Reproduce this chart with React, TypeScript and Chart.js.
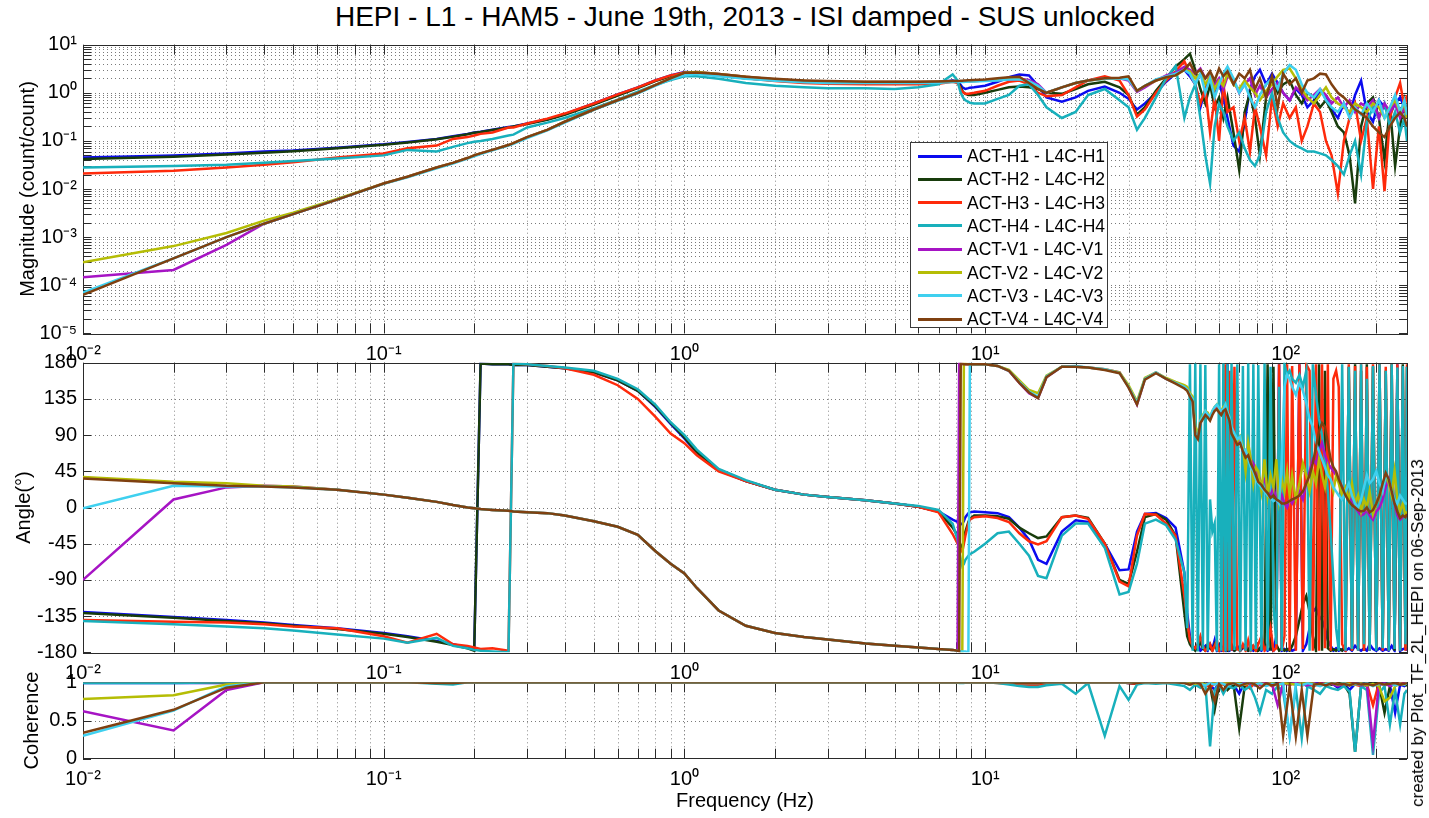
import React, { useEffect, useRef } from 'react';
import { Chart, registerables } from 'chart.js';

Chart.register(...registerables);

const FONT = '"Liberation Sans", Arial, Helvetica, sans-serif';

// ---------- frequency axis (Hz) ----------
// shared low / mid band (63 points)
const FREQ_LOW = [
  0.01, 0.02, 0.03, 0.04, 0.05, 0.07, 0.1, 0.12, 0.15, 0.17, 0.19, 0.2, 0.21, 0.23, 0.26, 0.27,
  0.3, 0.35, 0.4, 0.5, 0.6, 0.7, 0.8, 0.9, 1.0, 1.1, 1.3, 1.6, 2, 2.5, 3, 4, 5, 6, 7,
  7.8, 8.1, 8.2, 8.3, 8.4, 8.5, 8.6, 8.8, 8.9, 9.2,
  10, 11, 12, 13, 14, 15, 16, 18, 20, 22, 25, 28, 30, 32, 34, 37, 40, 43,
];
// high band used by magnitude and coherence (42 points)
const FREQ_HIGH = [
  46, 48, 50, 52, 54, 56, 58, 60, 62, 64,
  67, 70, 73, 76, 79, 82, 86, 90, 94, 98,
  103, 108, 113, 118, 124, 130, 136, 142, 149, 156,
  163, 170, 178, 186, 195, 204, 213, 222, 231, 240,
  248, 253,
];
// denser high band used by the phase (81 points)
const FREQ_PHASE_HIGH = [
  46, 47, 48, 49, 50, 51, 52, 53, 54, 55,
  56, 57, 58, 59, 60, 61, 62, 63, 64, 65,
  66, 67.5, 69, 70.5, 72, 73.5, 75, 76.5, 78, 79.5,
  81, 83, 85, 87, 89, 91, 93, 95, 97, 99,
  101, 103, 105, 108, 111, 114, 117, 120, 123, 126,
  129, 132, 135, 138, 141, 144, 147, 150, 154, 158,
  162, 166, 170, 174, 178, 182, 186, 190, 195, 200,
  205, 210, 215, 220, 225, 230, 235, 240, 245, 250,
  253,
];
const FREQ = FREQ_LOW.concat(FREQ_HIGH);
const FREQ_PHASE = FREQ_LOW.concat(FREQ_PHASE_HIGH);

const SERIES_NAMES = [
  'ACT-H1 - L4C-H1', 'ACT-H2 - L4C-H2', 'ACT-H3 - L4C-H3', 'ACT-H4 - L4C-H4',
  'ACT-V1 - L4C-V1', 'ACT-V2 - L4C-V2', 'ACT-V3 - L4C-V3', 'ACT-V4 - L4C-V4',
];
const SERIES_COLORS = ['#0b0bef', '#183c0c', '#fe2a0b', '#18b0bc', '#a614c4', '#b5bd05', '#3fd0ef', '#7f4010'];

// ---------- tick values / labels ----------
const X_MAJOR_TICKS = [0.01, 0.1, 1, 10, 100];
const X_TICK_LABELS = ['10⁻²', '10⁻¹', '10⁰', '10¹', '10²'];
const MAG_MAJOR_TICKS = [1e-5, 1e-4, 1e-3, 1e-2, 1e-1, 1, 10];
const MAG_TICK_LABELS = ['10⁻⁵', '10⁻⁴', '10⁻³', '10⁻²', '10⁻¹', '10⁰', '10¹'];
const PHASE_TICKS = [-180, -135, -90, -45, 0, 45, 90, 135, 180];
const PHASE_TICK_LABELS = ['-180', '-135', '-90', '-45', '0', '45', '90', '135', '180'];
const COH_TICKS = [0, 0.5, 1];
const COH_TICK_LABELS = ['0', '0.5', '1'];
const MINOR_STEPS = [1, 2, 3, 4, 5, 6, 7, 8, 9];

// ---------- magnitude (count/count), on FREQ ----------
const MAG_H1 = [
  0.045, 0.05, 0.055, 0.06, 0.063, 0.072, 0.085, 0.095, 0.11, 0.125, 0.14, 0.15, 0.155, 0.17, 0.195, 0.2,
  0.23, 0.28, 0.36, 0.6, 0.92, 1.3, 1.8, 2.3, 2.7, 2.65, 2.35, 2.05, 1.85, 1.7, 1.65, 1.6, 1.6, 1.6, 1.65,
  1.8, 1.75, 1.6, 1.45, 1.3, 1.25, 1.2, 1.25, 1.28, 1.3,
  1.4, 1.7, 2.1, 2.4, 2.3, 1.4, 0.8, 0.65, 0.8, 1.1, 1.35, 1.0, 0.75, 0.45, 0.6, 1.0, 1.7, 2.5,
  3.0, 2.2, 1.5, 0.5, 1.2, 2.0, 0.9, 1.6, 0.8, 0.3,
  0.08, 0.06, 0.25, 1.2, 2.2, 3.0, 1.5, 2.5, 1.6, 1.0,
  0.7, 1.2, 0.9, 0.5, 0.7, 1.1, 0.8, 0.45, 0.3, 0.6,
  0.35, 0.9, 1.8, 0.4, 0.25, 0.7, 0.5, 0.35, 0.6, 0.8,
  0.5, 0.3,
];
const MAG_H2 = [
  0.042, 0.047, 0.052, 0.057, 0.061, 0.07, 0.083, 0.093, 0.108, 0.122, 0.138, 0.148, 0.153, 0.168, 0.19, 0.2,
  0.225, 0.275, 0.35, 0.57, 0.88, 1.25, 1.75, 2.2, 2.6, 2.55, 2.3, 2.0, 1.8, 1.65, 1.6, 1.6, 1.6, 1.6, 1.65,
  1.75, 1.65, 1.5, 1.3, 1.1, 1.0, 0.95, 0.9, 0.9, 0.9,
  1.0, 1.15, 1.3, 1.35, 1.3, 1.2, 1.0, 0.95, 1.2, 1.5, 1.7, 1.3, 0.9, 0.35, 0.5, 1.1, 2.0, 3.5,
  5.0, 6.5, 3.0, 1.2, 0.6, 1.5, 0.5, 0.8, 0.3, 0.8,
  0.15, 0.025, 0.4, 1.0, 0.3, 0.05, 0.8, 2.0, 1.0, 1.5,
  1.8, 0.9, 0.6, 1.0, 0.8, 0.5, 0.7, 0.4, 0.2, 0.15,
  0.05, 0.005, 0.2, 0.6, 0.8, 0.3, 0.04, 0.5, 0.03, 0.2,
  0.7, 0.4,
];
const MAG_H3 = [
  0.021, 0.024, 0.028, 0.032, 0.036, 0.045, 0.055, 0.07, 0.08, 0.11, 0.12, 0.13, 0.14, 0.15, 0.19, 0.19,
  0.23, 0.29, 0.37, 0.6, 0.93, 1.3, 1.8, 2.3, 2.65, 2.6, 2.3, 2.0, 1.75, 1.6, 1.55, 1.5, 1.5, 1.5, 1.55,
  1.7, 1.6, 1.4, 1.2, 1.05, 1.0, 0.95, 0.95, 0.97, 1.0,
  1.1, 1.4, 1.7, 1.8, 1.5, 1.0, 0.85, 0.9, 1.3, 1.8, 2.2, 1.8, 0.9, 0.32, 0.45, 1.0, 1.8, 2.8,
  4.5, 2.5, 1.5, 0.6, 1.2, 0.15, 0.8, 0.1, 1.5, 0.4,
  0.5, 0.1, 0.3, 0.06, 0.5, 0.2, 0.05, 0.8, 0.2, 0.6,
  0.3, 0.5, 0.1, 0.2, 0.6, 0.4, 0.1, 0.05, 0.008, 0.1,
  0.3, 0.6, 0.1, 0.3, 0.01, 0.2, 0.009, 0.3, 0.8, 1.6,
  0.5, 0.9,
];
const MAG_H4 = [
  0.028, 0.03, 0.032, 0.035, 0.038, 0.043, 0.05, 0.065, 0.06, 0.075, 0.09, 0.096, 0.1, 0.11, 0.13, 0.135,
  0.19, 0.24, 0.3, 0.48, 0.72, 1.05, 1.45, 1.85, 2.2, 2.2, 1.95, 1.6, 1.4, 1.3, 1.25, 1.25, 1.2, 1.3, 1.5,
  2.4, 1.8, 1.3, 1.0, 0.85, 0.75, 0.7, 0.65, 0.62, 0.6,
  0.6, 0.75, 0.9, 1.4, 1.5, 0.9, 0.5, 0.3, 0.4, 0.9, 1.2, 0.7, 0.5, 0.17, 0.3, 0.8, 2.0, 3.6,
  0.3, 0.8, 1.5, 0.3, 0.05, 0.013, 0.2, 0.6, 0.4, 0.2,
  0.1, 0.15, 0.07, 0.04, 0.03, 0.05, 0.4, 1.0, 0.3, 0.15,
  0.1, 0.08, 0.07, 0.06, 0.06, 0.055, 0.05, 0.04, 0.03, 0.02,
  0.05, 0.1, 0.02, 0.25, 0.5, 0.3, 0.6, 0.2, 0.4, 0.15,
  0.3, 0.1,
];
const MAG_V1 = [
  1.46e-4, 2.07e-4, 6.9e-4, 1.9e-3, 3.0e-3, 6.0e-3, 1.3e-2, 1.8e-2, 2.8e-2, 3.5e-2, 4.4e-2, 5.0e-2, 5.5e-2, 6.5e-2, 8.2e-2, 9.0e-2,
  0.12, 0.17, 0.25, 0.45, 0.7, 1.0, 1.45, 2.0, 2.6, 2.7, 2.45, 2.15, 1.9, 1.78, 1.7, 1.68, 1.68, 1.68, 1.7,
  1.7, 1.7, 1.7, 1.7, 1.7, 1.7, 1.72, 1.72, 1.73, 1.75,
  1.8, 1.85, 1.9, 1.95, 1.85, 1.5, 1.0, 1.3, 1.6, 1.8, 2.0, 2.0, 1.8, 1.05, 1.3, 1.8, 2.3, 2.6,
  3.5, 3.0, 2.5, 3.2, 2.0, 2.5, 1.5, 2.0, 1.2, 2.2,
  1.8, 1.0, 1.5, 2.0, 0.9, 1.4, 0.8, 1.2, 1.6, 1.0,
  0.7, 1.3, 1.0, 0.7, 0.9, 1.2, 0.9, 0.6, 0.8, 0.5,
  0.7, 0.4, 0.6, 0.5, 0.7, 0.3, 0.6, 0.4, 0.6, 0.3,
  0.5, 0.35,
];
const MAG_V2 = [
  3.0e-4, 6.5e-4, 1.22e-3, 2.2e-3, 3.2e-3, 6.2e-3, 1.3e-2, 1.8e-2, 2.8e-2, 3.5e-2, 4.4e-2, 5.0e-2, 5.5e-2, 6.5e-2, 8.2e-2, 9.0e-2,
  0.12, 0.17, 0.25, 0.45, 0.7, 1.0, 1.45, 2.0, 2.6, 2.7, 2.45, 2.15, 1.9, 1.78, 1.7, 1.68, 1.68, 1.68, 1.7,
  1.7, 1.7, 1.7, 1.7, 1.7, 1.7, 1.72, 1.72, 1.73, 1.75,
  1.8, 1.9, 2.0, 1.95, 1.7, 1.3, 1.0, 1.3, 1.6, 1.8, 1.95, 2.0, 2.1, 1.1, 1.4, 1.8, 2.1, 2.3,
  3.0, 2.8, 2.0, 2.5, 1.5, 2.2, 1.2, 1.8, 1.4, 2.5,
  1.5, 1.2, 1.8, 1.3, 1.0, 0.7, 1.1, 1.5, 2.2, 3.0,
  3.2, 2.0, 1.2, 0.8, 0.6, 0.9, 1.3, 0.8, 0.6, 0.5,
  0.4, 0.6, 0.5, 0.4, 0.6, 0.5, 0.3, 0.5, 0.7, 0.4,
  0.6, 0.3,
];
const MAG_V3 = [
  7.0e-5, 3.6e-4, 1.0e-3, 1.9e-3, 3.0e-3, 6.0e-3, 1.28e-2, 1.75e-2, 2.7e-2, 3.4e-2, 4.3e-2, 4.8e-2, 5.3e-2, 6.4e-2, 8.0e-2, 8.7e-2,
  0.115, 0.165, 0.24, 0.44, 0.68, 0.97, 1.4, 1.9, 2.3, 2.45, 2.2, 1.95, 1.78, 1.66, 1.6, 1.6, 1.6, 1.6, 1.62,
  1.68, 1.68, 1.68, 1.68, 1.68, 1.68, 1.7, 1.7, 1.71, 1.72,
  1.75, 1.8, 1.9, 1.9, 1.75, 1.4, 1.0, 1.3, 1.6, 1.8, 1.95, 2.0, 1.9, 1.1, 1.4, 1.9, 2.2, 2.5,
  3.0, 2.5, 1.5, 2.5, 1.0, 2.0, 0.8, 1.5, 2.5, 3.5,
  2.0, 1.0, 1.5, 0.8, 0.5, 0.9, 1.5, 2.0, 1.2, 2.5,
  3.8, 3.0, 1.5, 1.0, 0.8, 1.2, 0.7, 0.5, 0.4, 0.6,
  0.3, 0.5, 0.35, 0.6, 0.4, 0.7, 0.3, 0.5, 0.9, 0.4,
  0.7, 0.35,
];
const MAG_V4 = [
  6.3e-5, 3.6e-4, 1.0e-3, 1.9e-3, 3.0e-3, 6.0e-3, 1.3e-2, 1.8e-2, 2.8e-2, 3.5e-2, 4.4e-2, 5.0e-2, 5.5e-2, 6.5e-2, 8.2e-2, 9.0e-2,
  0.12, 0.17, 0.25, 0.45, 0.7, 1.0, 1.45, 2.0, 2.6, 2.65, 2.45, 2.15, 1.95, 1.8, 1.75, 1.7, 1.7, 1.7, 1.72,
  1.75, 1.76, 1.77, 1.78, 1.78, 1.8, 1.8, 1.82, 1.82, 1.85,
  1.9, 2.0, 2.1, 2.15, 1.6, 1.2, 1.0, 1.3, 1.6, 1.8, 2.0, 2.05, 2.2, 1.1, 1.4, 1.8, 2.1, 2.3,
  3.0, 4.1, 2.5, 3.0, 2.0, 2.8, 1.8, 3.2, 2.2, 2.8,
  1.5, 2.5, 2.0, 3.0, 1.2, 2.0, 0.8, 2.2, 0.5, 2.5,
  1.5, 2.0, 1.0, 1.8, 2.0, 2.5, 2.4, 1.5, 1.0, 0.8,
  0.6, 0.45, 0.37, 0.3, 0.2, 0.15, 0.12, 0.2, 0.3, 0.39,
  0.3, 0.2,
];

// ---------- phase (degrees), on FREQ_PHASE ----------
const PH_H1 = [
  -130, -136, -140, -143, -146, -150, -156, -160, -166, -170, -174, -177, 179, 178, 178, 177,
  177, 175, 173, 168, 158, 145, 125, 104, 86, 68, 46, 33, 22, 16, 13, 9, 5, 1, -5,
  -15, -18, -20, -21, -20, -17, -12, -7, -6, -5,
  -6, -7, -12, -25, -40, -65, -70, -30, -16, -18, -45, -78, -77, -30, -8, -7, -13, -25,
  -81, -131, -160, -172, -176, -170, -178, -175, -172, -178,
  -170, -176, -165, -178, -172, -178, -175, -178, 178, -178,
  -176, -178, -172, -178, -175, -170, -178, -176, -178, -172,
  -176, -178, -170, -178, -175, -178, -160, 178, -178, -176,
  -178, -175, -178, -176, 178, -178, -170, -150, -130, -125,
  -135, -140, -150, -165, -172, -178, -175, -178, -176, -178,
  -175, -178, -172, -176, -178, -175, -178, -170, -176, -178,
  -175, -178, -176, -178, -172, -178, 178, -178, -176, -175,
  -178,
];
const PH_H2 = [
  -131, -137, -141, -144, -147, -151, -157, -161, -167, -171, -175, -178, 179, 178, 178, 177,
  177, 175, 173, 168, 158, 145, 126, 105, 87, 69, 47, 33, 22, 16, 13, 9, 5, 1, -5,
  -25, -35, -42, -47, -50, -42, -30, -18, -14, -10,
  -10, -11, -14, -25, -32, -38, -36, -12, -10, -13, -45, -90, -95, -55, -12, -8, -15, -35,
  -131, -160, -170, -175, -178, -172, -168, -175, -178, -170,
  -175, -178, -170, -176, -178, -172, -178, -175, -178, -176,
  -170, -178, -175, -178, -172, -176, -178, -170, -175, -178,
  -178, -172, -175, 178, -178, 175, -170, -178, -175, -178,
  -176, -178, -172, -160, -140, -120, -110, -130, -160, -178,
  178, -178, 170, -175, -178, -176, -178, -175, -178, -170,
  175, -178, 178, -176, 170, -178, 178, -178, 175, -178,
  178, -176, 170, -178, 178, -178, 160, -178, 178, -175,
  175,
];
const PH_H3 = [
  -140, -142, -143, -145, -148, -150, -160, -168, -157, -170, -172, -174, -176, -175, -178, 179,
  178, 176, 173, 165, 152, 135, 113, 92, 80, 65, 45, 33, 22, 16, 13, 9, 5, 1, -6,
  -33, -45, -48, -52, -55, -45, -35, -20, -15, -12,
  -11, -13, -18, -32, -42, -46, -42, -12, -10, -14, -45, -92, -98, -35, -8, -9, -20, -35,
  -110, -140, -165, -172, -175, -170, -160, -172, -178, -175,
  -170, -178, -172, -165, -178, -175, -178, 178, -178, 170,
  -178, 175, -176, -178, -170, -178, -165, -178, -172, -178,
  -170, -160, -178, -170, -150, -178, -175, 178, -178, -160,
  178, -178, 176, -178, 178, -176, 178, 170, -178, 178,
  -178, 178, -175, 178, -178, 160, 170, 150, -170, -178,
  178, -178, 176, -178, 178, -178, 175, -178, 178, -176,
  178, -178, 175, -178, 178, -175, 178, -178, 176, -178,
  178,
];
const PH_H4 = [
  -141, -145, -148, -150, -153, -158, -163, -168, -162, -172, -175, -177, -178, -179, -180, 179,
  178, 176, 174, 170, 160, 147, 128, 106, 90, 72, 48, 34, 22, 16, 13, 9, 5, 2, -3,
  -20, -40, -55, -65, -73, -70, -65, -60, -58, -55,
  -45, -32, -30, -45, -60, -85, -88, -35, -20, -20, -50, -108, -105, -70, -20, -15, -22, -40,
  -81, -150, 178, -178, 179, -179, 178, -176, 177, -178,
  10, -30, -20, -179, 178, -178, 179, -179, 178, -178,
  179, -177, 178, -179, 176, -178, 179, -179, 178, -176,
  177, -178, 179, -178, 175, -120, -170, 150, -178, 178,
  165, 170, 160, 155, 165, 150, 170, -178, 178, 140,
  110, 90, 60, 20, -30, -90, -150, -178, 178, -178,
  175, -176, 170, -178, 178, -170, 160, -178, 176, -178,
  178, -175, 170, -178, 178, -176, 174, -178, 176, -170,
  175,
];
const PH_V1 = [
  -90, 10, 25, 27, 26, 22, 16, 12, 7, 3, 0, -1, -2, -3, -4, -5,
  -6, -7, -10, -17, -24, -34, -54, -70, -82, -100, -128, -147, -156, -161, -164, -169, -172, -174, -176,
  -177, -178, 179, 179, 178, 178, 178, 178, 178, 178,
  178, 176, 170, 155, 142, 136, 162, 175, 175, 174, 172, 168, 150, 128, 160, 168, 160, 155,
  150, 148, 140, 135, 95, 90, 105, 112, 118, 115,
  110, 118, 122, 125, 120, 118, 122, 125, 115, 110,
  95, 88, 80, 85, 70, 65, 75, 60, 55, 45,
  40, 30, 35, 20, 15, 25, 10, 5, 15, 5,
  0, 10, 5, 15, 20, 10, 30, 45, 60, 55,
  70, 80, 65, 55, 50, 45, 40, 35, 25, 20,
  15, 5, 0, -5, -10, -8, -3, -10, -15, -5,
  0, 10, 25, 35, 20, 5, -10, -15, -12, -10,
  -10,
];
const PH_V2 = [
  38, 32, 30, 27, 26, 22, 16, 12, 7, 3, 0, -1, -2, -3, -4, -5,
  -6, -7, -10, -17, -24, -34, -54, -70, -82, -100, -128, -147, -156, -161, -164, -169, -172, -174, -176,
  -177, -178, -178, -179, -179, 179, 179, 178, 178, 178,
  178, 176, 171, 158, 146, 142, 164, 175, 175, 174, 172, 168, 152, 132, 161, 168, 161, 156,
  152, 150, 142, 138, 100, 92, 108, 115, 120, 118,
  112, 120, 125, 128, 122, 120, 125, 128, 118, 112,
  98, 90, 82, 88, 75, 45, 80, 60, 30, 50,
  45, 20, 60, 15, 40, 25, 60, 10, 35, 20,
  45, 15, 40, 10, 30, 55, 40, 20, 45, 30,
  60, 40, 25, 50, 35, 20, 40, 30, 15, 25,
  10, 30, 5, 15, -5, 10, 0, 20, -8, 5,
  15, 25, 40, 30, 15, 45, 10, -5, 5, -10,
  -5,
];
const PH_V3 = [
  -1, 27, 26, 26, 25, 22, 16, 12, 7, 3, 0, -1, -2, -3, -4, -5,
  -6, -7, -10, -17, -24, -34, -54, -70, -82, -100, -128, -147, -156, -161, -164, -169, -172, -174, -176,
  -177, -178, -178, -179, -179, -179, -179, -180, 179, 178,
  178, 176, 170, 156, 144, 138, 163, 175, 176, 174, 172, 167, 150, 130, 160, 168, 160, 155,
  150, 147, 140, 135, 92, 88, 108, 113, 120, 116,
  112, 120, 125, 128, 124, 120, 122, 128, 118, 112,
  100, 92, 85, 88, 70, 72, 60, 50, 45, 35,
  30, 25, 20, 15, 12, 8, 10, 5, 60, 150,
  165, 160, 150, 140, 155, 145, 130, 110, 100, 80,
  70, 60, 50, 40, 35, 25, 20, 15, 10, 20,
  30, 15, 5, 0, 10, 25, 40, 30, 35, 45,
  30, 20, 40, 35, 20, 10, 5, 15, 10, 5,
  5,
];
const PH_V4 = [
  36, 30, 27, 26, 25, 22, 16, 12, 7, 3, 0, -1, -2, -3, -4, -5,
  -6, -7, -10, -17, -24, -34, -54, -70, -82, -100, -128, -147, -156, -161, -164, -169, -172, -174, -176,
  -177, -178, -179, 179, 179, 178, 178, 178, 178, 178,
  178, 176, 170, 155, 143, 136, 162, 175, 175, 174, 171, 167, 149, 128, 159, 167, 160, 154,
  148, 145, 138, 132, 90, 85, 105, 110, 115, 112,
  108, 115, 120, 122, 118, 115, 120, 122, 115, 108,
  92, 85, 78, 80, 70, 62, 65, 55, 48, 40,
  32, 28, 22, 18, 12, 15, 10, 8, 5, 5,
  6, 8, 10, 12, 15, 20, 30, 40, 55, 75,
  95, 105, 100, 80, 60, 50, 45, 35, 25, 15,
  8, 3, 0, -3, -5, -4, 0, -6, -3, 5,
  15, 30, 43, 35, 20, 5, -5, -13, -10, -12,
  -8,
];

// ---------- coherence, on FREQ ----------
const COH_H1 = [
  0.99, 0.99, 0.99, 1, 1, 1, 1, 1, 1, 1, 1, 1, 1, 1, 1, 1,
  1, 1, 1, 1, 1, 1, 1, 1, 1, 1, 1, 1, 1, 1, 1, 1, 1, 1, 1,
  1, 1, 1, 1, 1, 1, 1, 1, 1, 1,
  1, 1, 0.99, 0.98, 0.98, 0.98, 0.99, 1, 1, 1, 1, 1, 0.99, 0.98, 1, 1, 1, 1,
  1, 0.98, 0.99, 0.95, 1, 0.97, 0.9, 1, 0.98, 0.95,
  0.97, 0.85, 1, 0.98, 0.96, 1, 0.98, 0.99, 1, 0.97,
  1, 0.98, 0.99, 0.95, 0.98, 1, 0.97, 0.99, 0.93, 0.98,
  0.9, 0.98, 1, 0.95, 0.99, 0.97, 0.98, 0.96, 0.6, 0.97,
  0.95, 0.98,
];
const COH_H2 = [
  1, 1, 1, 1, 1, 1, 1, 1, 1, 1, 1, 1, 1, 1, 1, 1,
  1, 1, 1, 1, 1, 1, 1, 1, 1, 1, 1, 1, 1, 1, 1, 1, 1, 1, 1,
  1, 1, 1, 1, 1, 1, 1, 1, 1, 1,
  1, 1, 0.99, 0.98, 0.98, 0.97, 0.99, 1, 1, 1, 1, 1, 0.99, 0.98, 1, 1, 1, 1,
  1, 0.99, 0.98, 0.97, 1, 0.95, 0.64, 0.97, 0.99, 0.9,
  0.98, 0.4, 0.95, 1, 0.97, 0.99, 0.96, 1, 0.98, 1,
  0.99, 0.97, 0.98, 1, 0.96, 0.98, 0.99, 0.97, 1, 0.98,
  0.85, 0.09, 0.95, 0.97, 1, 0.98, 0.6, 0.95, 0.98, 0.97,
  0.99, 0.95,
];
const COH_H3 = [
  1, 1, 1, 1, 1, 1, 1, 1, 0.99, 1, 1, 1, 1, 1, 1, 1,
  1, 1, 1, 1, 1, 1, 1, 1, 1, 1, 1, 1, 1, 1, 1, 1, 1, 1, 1,
  1, 1, 1, 1, 1, 1, 1, 1, 1, 1,
  1, 0.99, 0.98, 0.96, 0.96, 0.97, 0.98, 1, 1, 1, 1, 1, 0.99, 0.98, 1, 1, 1, 1,
  1, 0.97, 0.99, 0.96, 0.98, 0.93, 0.99, 0.95, 0.98, 0.97,
  0.99, 0.96, 0.98, 0.92, 1, 0.97, 0.99, 0.95, 0.98, 1,
  0.97, 0.99, 0.96, 0.98, 0.95, 0.99, 0.97, 1, 0.98, 0.96,
  0.99, 0.97, 0.95, 0.98, 0.7, 0.99, 0.96, 0.98, 0.97, 0.99,
  0.98, 1,
];
const COH_H4 = [
  0.99, 0.99, 1, 1, 1, 1, 1, 1, 0.98, 0.97, 1, 1, 1, 1, 1, 1,
  1, 1, 1, 1, 1, 1, 1, 1, 1, 1, 1, 1, 1, 1, 1, 1, 1, 1, 1,
  1, 1, 0.99, 0.99, 0.99, 0.99, 1, 1, 1, 1,
  1, 0.99, 0.97, 0.95, 0.94, 0.94, 0.96, 0.98, 0.85, 0.99, 0.3, 0.95, 0.77, 0.97, 0.99, 0.98, 0.99, 0.97,
  0.95, 0.9, 0.97, 0.93, 0.98, 0.16, 0.9, 0.97, 0.85, 0.95,
  0.92, 0.97, 0.9, 0.95, 0.8, 0.6, 0.9, 0.85, 0.95, 0.88,
  0.3, 0.92, 0.27, 0.95, 0.9, 0.85, 0.95, 0.92, 0.9, 0.95,
  0.88, 0.09, 0.95, 0.9, 0.05, 0.85, 0.95, 0.45, 0.9, 0.45,
  0.85, 0.9,
];
const COH_V1 = [
  0.62, 0.37, 0.9, 1, 1, 1, 1, 1, 1, 1, 1, 1, 1, 1, 1, 1,
  1, 1, 1, 1, 1, 1, 1, 1, 1, 1, 1, 1, 1, 1, 1, 1, 1, 1, 1,
  1, 1, 1, 1, 1, 1, 1, 1, 1, 1,
  1, 1, 1, 0.99, 0.99, 0.99, 1, 1, 1, 1, 1, 1, 1, 0.99, 1, 1, 1, 1,
  1, 0.98, 0.99, 1, 0.97, 1, 0.98, 0.99, 1, 0.97,
  0.99, 0.96, 1, 0.98, 0.99, 0.97, 1, 0.98, 0.7, 0.99,
  0.97, 1, 0.98, 0.96, 0.99, 0.97, 1, 0.98, 0.95, 0.99,
  0.97, 0.99, 0.96, 0.98, 0.2, 0.97, 0.99, 0.95, 0.98, 0.97,
  0.99, 0.98,
];
const COH_V2 = [
  0.78, 0.83, 0.97, 1, 1, 1, 1, 1, 1, 1, 1, 1, 1, 1, 1, 1,
  1, 1, 1, 1, 1, 1, 1, 1, 1, 1, 1, 1, 1, 1, 1, 1, 1, 1, 1,
  1, 1, 1, 1, 1, 1, 1, 1, 1, 1,
  1, 1, 1, 0.99, 0.99, 0.99, 1, 1, 1, 1, 1, 1, 1, 0.99, 1, 1, 1, 1,
  1, 0.99, 0.98, 1, 0.97, 0.99, 1, 0.98, 0.99, 1,
  0.98, 0.99, 0.97, 1, 0.98, 0.99, 0.97, 1, 0.96, 0.99,
  0.98, 0.97, 0.99, 1, 0.98, 0.96, 0.99, 1, 0.97, 0.99,
  0.98, 0.97, 0.99, 0.96, 0.98, 0.95, 0.75, 0.8, 0.95, 0.98,
  0.97, 0.99,
];
const COH_V3 = [
  0.3, 0.63, 0.95, 1, 1, 1, 1, 1, 1, 1, 1, 1, 1, 1, 1, 1,
  1, 1, 1, 1, 1, 1, 1, 1, 1, 1, 1, 1, 1, 1, 1, 1, 1, 1, 1,
  1, 1, 1, 1, 1, 1, 1, 1, 1, 1,
  1, 1, 1, 0.99, 0.99, 0.99, 1, 1, 1, 1, 1, 1, 1, 0.99, 1, 1, 1, 1,
  0.99, 0.97, 1, 0.98, 0.96, 0.99, 0.97, 1, 0.98, 0.95,
  0.99, 0.97, 0.98, 1, 0.97, 0.99, 0.95, 0.98, 0.97, 0.99,
  0.3, 0.98, 0.96, 0.99, 0.97, 0.95, 0.98, 1, 0.97, 0.99,
  0.96, 0.98, 0.97, 0.99, 0.95, 0.98, 0.97, 0.99, 0.96, 0.98,
  0.97, 0.99,
];
const COH_V4 = [
  0.34, 0.64, 0.93, 1, 1, 1, 1, 1, 0.99, 0.99, 1, 1, 1, 1, 1, 1,
  1, 1, 1, 1, 1, 1, 1, 1, 1, 1, 1, 1, 1, 1, 1, 1, 1, 1, 1,
  1, 1, 1, 1, 1, 1, 1, 1, 1, 1,
  1, 1, 1, 0.99, 0.99, 0.99, 1, 1, 1, 1, 1, 1, 1, 0.99, 1, 1, 1, 1,
  0.99, 0.97, 1, 0.98, 0.85, 0.95, 0.75, 0.98, 0.9, 0.97,
  0.99, 0.95, 0.98, 1, 0.97, 0.92, 0.99, 0.96, 0.98, 0.3,
  0.95, 0.29, 0.9, 0.3, 0.97, 0.98, 0.96, 0.99, 0.97, 0.98,
  0.96, 0.99, 0.97, 0.98, 0.96, 0.99, 0.97, 0.98, 0.99, 0.97,
  0.98, 0.99,
];

// ---------- helpers ----------
function withMinor(majors: number[], min: number, max: number): number[] {
  const out: number[] = [];
  for (const m of majors) {
    for (const s of MINOR_STEPS) {
      const v = Number((m * s).toPrecision(6));
      if (v >= min * 0.9999 && v <= max * 1.0001) out.push(v);
    }
  }
  return out;
}
function labelFor(v: number, ticks: number[], labels: string[]): string {
  const i = ticks.findIndex((t) => Math.abs(t - v) <= Math.abs(t) * 1e-6 + 1e-12);
  return i >= 0 ? labels[i] : '';
}

const X_MIN = 0.01;
const X_MAX = 253;
const X_ALL_TICKS = withMinor(X_MAJOR_TICKS, X_MIN, X_MAX);
const MAG_ALL_TICKS = withMinor(MAG_MAJOR_TICKS, 1e-5, 10);

function buildSeries(freq: number[], values: number[][]) {
  return values.map((arr, i) => ({
    label: SERIES_NAMES[i],
    data: freq.map((f, k) => ({ x: f, y: arr[k] })),
    borderColor: SERIES_COLORS[i],
    backgroundColor: SERIES_COLORS[i],
    borderWidth: 2.5,
    pointRadius: 0,
    tension: 0,
    fill: false,
    order: values.length - 1 - i,
  }));
}

// grid (dotted), inward tick marks and axes box, MATLAB style
const matlabAxes = {
  id: 'matlabAxes',
  beforeDatasetsDraw(chart: any) {
    const { ctx, chartArea: a } = chart;
    const xs = chart.scales.x;
    const ys = chart.scales.y;
    ctx.save();
    ctx.lineWidth = 1;
    ctx.setLineDash([1, 3]);
    for (const t of xs.ticks) {
      const px = Math.round(xs.getPixelForValue(t.value)) + 0.5;
      if (px <= a.left + 1 || px >= a.right - 1) continue;
      const major = X_MAJOR_TICKS.some((m) => Math.abs(m - t.value) < m * 1e-6);
      ctx.strokeStyle = major ? '#555' : '#8a8a8a';
      ctx.beginPath();
      ctx.moveTo(px, a.top);
      ctx.lineTo(px, a.bottom);
      ctx.stroke();
    }
    for (const t of ys.ticks) {
      const py = Math.round(ys.getPixelForValue(t.value)) + 0.5;
      if (py <= a.top + 1 || py >= a.bottom - 1) continue;
      ctx.strokeStyle = '#7a7a7a';
      ctx.beginPath();
      ctx.moveTo(a.left, py);
      ctx.lineTo(a.right, py);
      ctx.stroke();
    }
    ctx.setLineDash([]);
    ctx.strokeStyle = '#2a2a2a';
    const L = 10;
    ctx.beginPath();
    for (const t of xs.ticks) {
      const px = Math.round(xs.getPixelForValue(t.value)) + 0.5;
      ctx.moveTo(px, a.bottom);
      ctx.lineTo(px, a.bottom - L);
      ctx.moveTo(px, a.top);
      ctx.lineTo(px, a.top + L);
    }
    for (const t of ys.ticks) {
      const py = Math.round(ys.getPixelForValue(t.value)) + 0.5;
      ctx.moveTo(a.left, py);
      ctx.lineTo(a.left + 8, py);
      ctx.moveTo(a.right, py);
      ctx.lineTo(a.right - 8, py);
    }
    ctx.stroke();
    ctx.strokeRect(Math.round(a.left) + 0.5, Math.round(a.top) + 0.5, Math.round(a.right - a.left), Math.round(a.bottom - a.top));
    ctx.restore();
  },
};

function xScale(axisHeight: number, title?: any) {
  return {
    type: 'logarithmic',
    min: X_MIN,
    max: X_MAX,
    bounds: 'data',
    afterBuildTicks: (s: any) => {
      s.ticks = X_ALL_TICKS.map((v) => ({ value: v }));
    },
    afterFit: (s: any) => {
      s.height = axisHeight;
    },
    grid: { display: false, drawTicks: false },
    border: { display: false },
    ticks: {
      autoSkip: false,
      maxRotation: 0,
      minRotation: 0,
      padding: 9,
      color: '#000',
      font: { family: FONT, size: 20 },
      callback: (v: any) => labelFor(Number(v), X_MAJOR_TICKS, X_TICK_LABELS),
    },
    title: title || { display: false },
  };
}

function yScale(opts: any, tickValues: number[], tickLabels: string[], majorTicks: number[], title: string, titlePad: number) {
  return {
    ...opts,
    afterBuildTicks: (s: any) => {
      s.ticks = tickValues.map((v) => ({ value: v }));
    },
    afterFit: (s: any) => {
      s.width = 83;
    },
    grid: { display: false, drawTicks: false },
    border: { display: false },
    ticks: {
      autoSkip: false,
      padding: 6,
      color: '#000',
      font: { family: FONT, size: 20 },
      callback: (v: any) => labelFor(Number(v), majorTicks, tickLabels),
    },
    title: {
      display: true,
      text: title,
      color: '#000',
      font: { family: FONT, size: 20 },
      padding: { top: titlePad, bottom: 0 },
    },
  };
}

function baseOptions(padTop: number) {
  return {
    responsive: false,
    animation: false,
    events: [],
    layout: { padding: { top: padTop, right: 22, left: 0, bottom: 0 } },
    plugins: { legend: { display: false }, tooltip: { enabled: false }, title: { display: false } },
  };
}

function magConfig(): any {
  return {
    type: 'line',
    data: { datasets: buildSeries(FREQ, [MAG_H1, MAG_H2, MAG_H3, MAG_H4, MAG_V1, MAG_V2, MAG_V3, MAG_V4]) },
    options: {
      ...baseOptions(44.7),
      scales: {
        x: xScale(38.7),
        y: yScale({ type: 'logarithmic', min: 1e-5, max: 10, bounds: 'data' }, MAG_ALL_TICKS, MAG_TICK_LABELS, MAG_MAJOR_TICKS, 'Magnitude (count/count)', 16),
      },
    },
    plugins: [matlabAxes],
  };
}

function phaseConfig(): any {
  return {
    type: 'line',
    data: { datasets: buildSeries(FREQ_PHASE, [PH_H1, PH_H2, PH_H3, PH_H4, PH_V1, PH_V2, PH_V3, PH_V4]) },
    options: {
      ...baseOptions(22.7),
      scales: {
        x: xScale(32.7),
        y: yScale({ type: 'linear', min: -180, max: 180 }, PHASE_TICKS, PHASE_TICK_LABELS, PHASE_TICKS, 'Angle(°)', 12),
      },
    },
    plugins: [matlabAxes],
  };
}

function cohConfig(): any {
  return {
    type: 'line',
    data: { datasets: buildSeries(FREQ, [COH_H1, COH_H2, COH_H3, COH_H4, COH_V1, COH_V2, COH_V3, COH_V4]) },
    options: {
      ...baseOptions(22.3),
      scales: {
        x: xScale(59.3, {
          display: true,
          text: 'Frequency (Hz)',
          color: '#000',
          font: { family: FONT, size: 20 },
          padding: { top: 0, bottom: 5 },
        }),
        y: yScale({ type: 'linear', min: 0, max: 1 }, COH_TICKS, COH_TICK_LABELS, COH_TICKS, 'Coherence', 20),
      },
    },
    plugins: [matlabAxes],
  };
}

function ChartCanvas({ top, height, makeConfig }: { top: number; height: number; makeConfig: () => any }) {
  const ref = useRef<HTMLCanvasElement | null>(null);
  useEffect(() => {
    if (!ref.current) return;
    const chart = new Chart(ref.current, makeConfig());
    return () => chart.destroy();
  }, []);
  return (
    <canvas
      ref={ref}
      width={1429}
      height={height}
      style={{ position: 'absolute', left: 0, top, width: 1429, height, display: 'block' }}
    />
  );
}

export default function App() {
  return (
    <div style={{ position: 'absolute', left: 0, top: 0, width: 1429, height: 818, overflow: 'hidden', background: '#fff', fontFamily: FONT }}>
      <div
        style={{
          position: 'absolute', left: 83, top: 4, width: 1324, textAlign: 'center',
          fontSize: 28, lineHeight: '26px', color: '#000', whiteSpace: 'nowrap',
        }}
      >
        HEPI - L1 - HAM5 - June 19th, 2013 - ISI damped - SUS unlocked
      </div>
      <ChartCanvas top={0} height={372} makeConfig={magConfig} />
      <ChartCanvas top={340} height={345} makeConfig={phaseConfig} />
      <ChartCanvas top={660} height={158} makeConfig={cohConfig} />
      <div
        style={{
          position: 'absolute', left: 910, top: 142, width: 198, height: 186,
          border: '1px solid #3a3a3a', background: '#fff', boxSizing: 'border-box',
        }}
      >
        {SERIES_NAMES.map((name, i) => (
          <div
            key={name}
            style={{ position: 'absolute', left: 7, top: 3 + i * 23.3, height: 20, display: 'flex', alignItems: 'center' }}
          >
            <span style={{ display: 'inline-block', width: 44, height: 3, background: SERIES_COLORS[i] }} />
            <span style={{ marginLeft: 5, fontSize: 17.5, color: '#000', whiteSpace: 'nowrap', lineHeight: '20px' }}>{name}</span>
          </div>
        ))}
      </div>
      <div
        style={{
          position: 'absolute', left: 1418, top: 633, transform: 'translate(-50%, -50%) rotate(-90deg)',
          fontSize: 17, color: '#000', whiteSpace: 'nowrap', lineHeight: '20px',
        }}
      >
        created by Plot_TF_2L_HEPI on 06-Sep-2013
      </div>
    </div>
  );
}
